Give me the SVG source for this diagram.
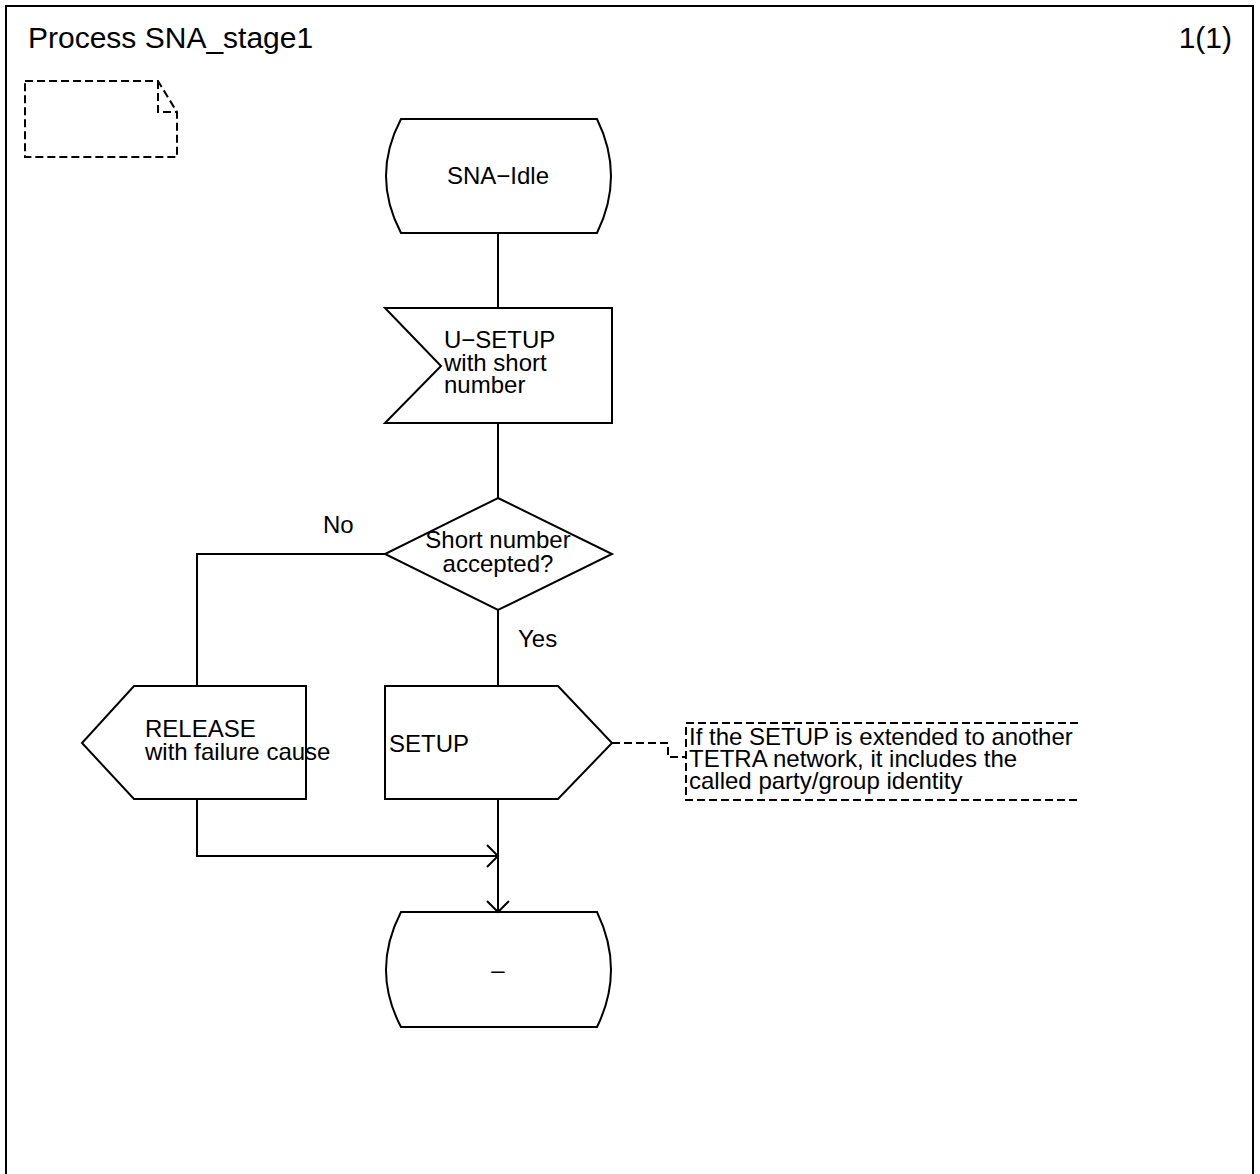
<svg xmlns="http://www.w3.org/2000/svg" width="1260" height="1174" viewBox="0 0 1260 1174">
<style>
.s{fill:none;stroke:#000;stroke-width:2}
.d{fill:none;stroke:#000;stroke-width:2;stroke-dasharray:8 4}
.t{font-family:"Liberation Sans",Arial,sans-serif;font-size:24px;fill:#000}
.h{font-family:"Liberation Sans",Arial,sans-serif;font-size:30px;fill:#000}
</style>
<rect width="1260" height="1174" fill="#fff"/>
<g id="frame">
<path class="s" d="M6,1180 V6 H1253 V1180"/>
<text class="h" x="28" y="48">Process SNA_stage1</text>
<text class="h" x="1232" y="48" text-anchor="end">1(1)</text>
</g>
<g id="note">
<path class="d" d="M25,81 H158 L177,112 V157 H25 Z"/>
<path class="d" d="M158,81 V112 H177"/>
</g>
<g id="start">
<path class="s" d="M401,119 H597 Q625,176 597,233 H401 Q371,176 401,119 Z"/>
<text class="t" x="498" y="184" text-anchor="middle">SNA−Idle</text>
</g>
<g id="input">
<path class="s" d="M385,308 H612 V423 H385 L441,366 Z"/>
<text class="t" x="444" y="348">U−SETUP</text>
<text class="t" x="444" y="371">with short</text>
<text class="t" x="444" y="393">number</text>
</g>
<g id="decision">
<path class="s" d="M498,498 L612,554 L498,610 L385,554 Z"/>
<text class="t" x="498" y="548" text-anchor="middle">Short number</text>
<text class="t" x="498" y="572" text-anchor="middle">accepted?</text>
</g>
<g id="release">
<path class="s" d="M134,686 H306 V799 H134 L82,743 Z"/>
<text class="t" x="145" y="737">RELEASE</text>
<text class="t" x="145" y="760">with failure cause</text>
</g>
<g id="setup">
<path class="s" d="M385,686 H558 L612,743 L558,799 H385 Z"/>
<text class="t" x="389" y="752">SETUP</text>
</g>
<g id="comment">
<path class="d" d="M1078,723 H686 V800 H1078"/>
<text class="t" x="689" y="745">If the SETUP is extended to another</text>
<text class="t" x="689" y="767">TETRA network, it includes the</text>
<text class="t" x="689" y="789">called party/group identity</text>
</g>
<g id="end">
<path class="s" d="M401,912 H597 Q625,970 597,1027 H401 Q371,970 401,912 Z"/>
<text class="t" x="498" y="978" text-anchor="middle">–</text>
</g>
<g id="connectors">
<path class="s" d="M498,233 V308"/>
<path class="s" d="M498,423 V498"/>
<path class="s" d="M385,554 H197 V686"/>
<text class="t" x="323" y="533">No</text>
<path class="s" d="M498,610 V686"/>
<text class="t" x="518" y="647">Yes</text>
<path class="s" d="M498,799 V912"/>
<path class="s" d="M197,799 V856 H498"/>
<path class="s" d="M487,845 L498,856 L487,867"/>
<path class="s" d="M487,901 L498,912 L509,901"/>
<path class="d" d="M612,743 H668 V757 H686"/>
</g>
</svg>
